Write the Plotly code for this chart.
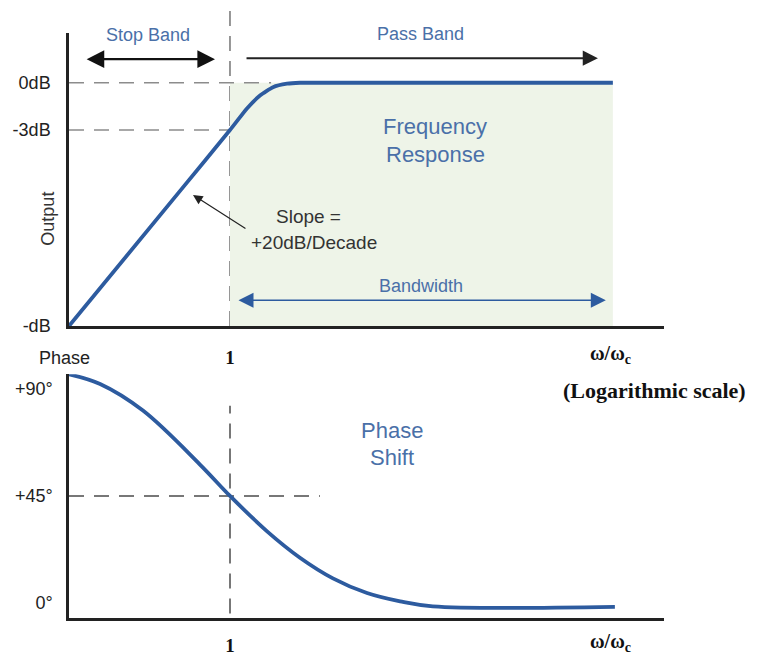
import numpy as np
import plotly.graph_objects as go

W, H = 758, 663

# ---------------- data ----------------
mag_w = [0.1, 0.5, 1.0, 1.275, 1.536, 1.85, 2.26, 2.72, 239]
mag_db = [-15.44, -6.75, -3.0, -1.63, -0.81, -0.28, -0.06, 0.0, 0.0]

ph_w = [0.1, 0.156, 0.288, 0.651, 1.0, 1.70, 2.72, 4.36, 7.10, 11.4, 18.2, 246]
ph_deg = [96.2, 92.1, 80.9, 58.2, 45.0, 30.1, 19.0, 10.3, 4.1, 0.6, -1.5, -1.7]

db_tickvals = [0, -3, -15.44]
db_ticktext = ["0dB", "-3dB", "-dB"]
ph_tickvals = [0, 45, 90]
ph_ticktext = ["0°", "+45°", "+90°"]
x_tickvals = [1]
x_ticktext = ["1"]

# ---------------- helpers ----------------
def px(xp):
    return xp / W

def py(yp):
    return 1 - yp / H

BLUE_LINE = "#2d5b9f"
BLUE_TEXT = "#4a70a8"
AXIS = "#222222"
DASH = "#8c8c8c"
FILL = "#eef4e8"
SANS = "Liberation Sans, Arial, sans-serif"
SERIF = "Liberation Serif, Times New Roman, serif"

fig = go.Figure()

fig.add_trace(go.Scatter(x=mag_w, y=mag_db, mode="lines",
                         line=dict(color=BLUE_LINE, width=3.8, shape="spline", smoothing=0.5),
                         xaxis="x", yaxis="y", hoverinfo="skip", showlegend=False))
fig.add_trace(go.Scatter(x=ph_w, y=ph_deg, mode="lines",
                         line=dict(color=BLUE_LINE, width=3.8, shape="spline", smoothing=1.0),
                         xaxis="x2", yaxis="y2", hoverinfo="skip", showlegend=False))

xr = [-1, 2.696]
xdom = [px(69), px(664)]
common_x = dict(type="log", range=xr, domain=xdom, showline=True, linecolor=AXIS, linewidth=2.5,
                showgrid=False, zeroline=False, ticks="", tickvals=x_tickvals, ticktext=x_ticktext,
                tickfont=dict(family=SERIF, size=19, color="#111", weight="bold"))
common_y = dict(showline=True, linecolor=AXIS, linewidth=2.5, showgrid=False, zeroline=False,
                ticks="", tickfont=dict(family=SANS, size=18, color="#222"))

fig.update_layout(
    width=W, height=H, autosize=False,
    margin=dict(l=0, r=0, t=0, b=0),
    paper_bgcolor="white", plot_bgcolor="rgba(0,0,0,0)",
    xaxis=dict(**common_x, anchor="y", ticklabelstandoff=12),
    yaxis=dict(**common_y, range=[-15.44, 3.19], domain=[py(331), py(33)], anchor="x",
               tickvals=db_tickvals, ticktext=db_ticktext, ticklabelstandoff=12),
    xaxis2=dict(**common_x, anchor="y2", ticklabelstandoff=9),
    yaxis2=dict(**common_y, range=[-6.2, 96.2], domain=[py(627), py(380)], anchor="x2",
                tickvals=ph_tickvals, ticktext=ph_ticktext, ticklabelstandoff=10),
)

dash = "15px,10px"
shapes = [
    dict(type="rect", xref="x", yref="y", x0=1, x1=239, y0=-15.44, y1=0,
         fillcolor=FILL, line=dict(width=0), layer="below"),
    dict(type="line", xref="x", yref="paper", x0=1, x1=1, y0=py(331), y1=py(10),
         line=dict(color=DASH, width=1.8, dash=dash), layer="below"),
    dict(type="line", xref="x", yref="y", x0=0.1, x1=1.8, y0=0, y1=0,
         line=dict(color=DASH, width=1.5, dash=dash), layer="below"),
    dict(type="line", xref="x", yref="y", x0=0.1, x1=1, y0=-3, y1=-3,
         line=dict(color=DASH, width=1.5, dash=dash), layer="below"),
    dict(type="line", xref="x2", yref="y2", x0=1, x1=1, y0=-4.5, y1=83,
         line=dict(color="#777", width=2, dash=dash), layer="below"),
    dict(type="line", xref="x2", yref="y2", x0=0.1, x1=3.62, y0=45, y1=45,
         line=dict(color="#777", width=2, dash=dash), layer="below"),
]
fig.update_layout(shapes=shapes)

L = np.log10
ann = []
# Stop band double arrow
ann.append(dict(xref="x", yref="y", axref="x", ayref="y", x=L(0.807), y=1.5, ax=L(0.126), ay=1.5,
                text="", showarrow=True, arrowhead=2, startarrowhead=2, arrowside="end+start",
                arrowsize=1.6, startarrowsize=1.6, arrowwidth=2.2, arrowcolor="#111"))
# Pass band arrow
ann.append(dict(xref="x", yref="y", axref="x", ayref="y", x=L(193), y=1.56, ax=L(1.24), ay=1.56,
                text="", showarrow=True, arrowhead=2, arrowsize=1.6, arrowwidth=1.9, arrowcolor="#222"))
# Bandwidth arrow
ann.append(dict(xref="x", yref="y", axref="x", ayref="y", x=L(216), y=-13.81, ax=L(1.105), ay=-13.81,
                text="", showarrow=True, arrowhead=2, startarrowhead=2, arrowside="end+start",
                arrowsize=2.0, startarrowsize=2.0, arrowwidth=1.5, arrowcolor=BLUE_LINE))
# Slope arrow
ann.append(dict(xref="x", yref="y", axref="x", ayref="y", x=L(0.589), y=-7.125, ax=L(1.275), ay=-9.31,
                text="", showarrow=True, arrowhead=2, arrowsize=1.6, arrowwidth=1.2, arrowcolor="#222"))

def txt(t, xp, yp, size=18, color="#222", family=SANS, angle=0, weight="normal"):
    ann.append(dict(xref="paper", yref="paper", x=px(xp), y=py(yp), text=t, showarrow=False,
                    xanchor="center", yanchor="middle", textangle=angle, align="center",
                    font=dict(family=family, size=size, color=color, weight=weight)))

txt("Stop Band", 148, 36, 18, BLUE_TEXT)
txt("Pass Band", 420, 35, 18, BLUE_TEXT)
txt("Frequency", 435, 128, 22, BLUE_TEXT)
txt("Response", 435, 157, 22, BLUE_TEXT)
txt("Slope =", 308, 220, 19, "#333")
txt("+20dB/Decade", 314, 246, 19, "#333")
txt("Bandwidth", 421, 290, 18, BLUE_TEXT)
txt("Output", 48, 222, 18, "#333", angle=-90)
txt("ω/ω<sub>c</sub>", 610, 360, 20, "#111", SERIF, weight="bold")
txt("(Logarithmic scale)", 654, 396, 22, "#111", SERIF, weight="bold")
txt("Phase", 64, 363, 18, "#222")
txt("Phase", 392, 437, 22, BLUE_TEXT)
txt("Shift", 392, 465, 22, BLUE_TEXT)
txt("ω/ω<sub>c</sub>", 610, 652, 20, "#111", SERIF, weight="bold")

fig.update_layout(annotations=ann)

fig.write_html("out.html", config={"displayModeBar": False},
               post_script="document.body.style.margin='0';")
